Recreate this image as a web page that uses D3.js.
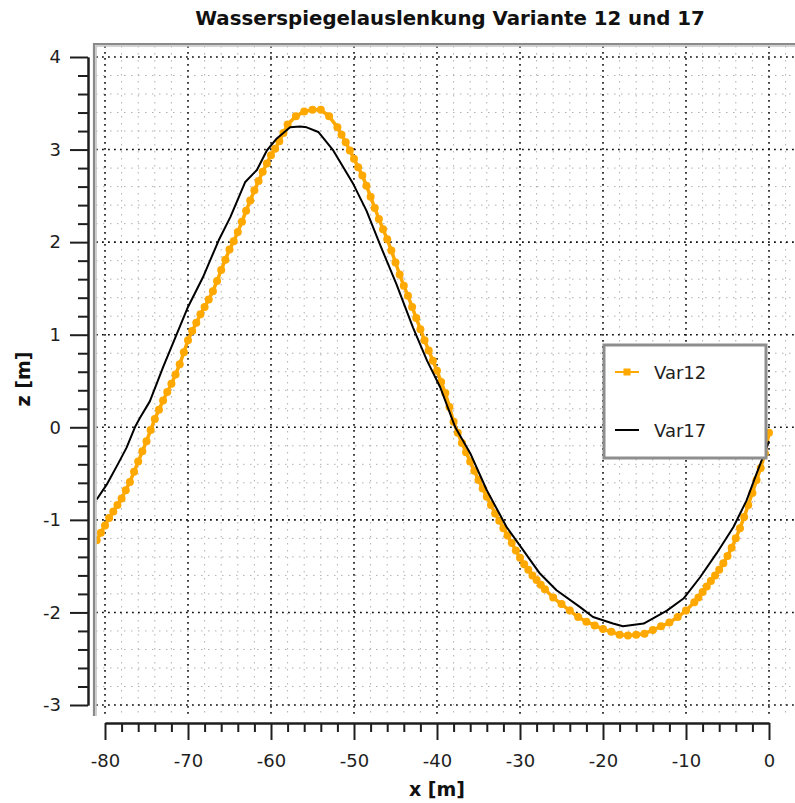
<!DOCTYPE html>
<html>
<head>
<meta charset="utf-8">
<script src="https://cdn.jsdelivr.net/npm/d3@7"></script>
<style>
  html, body { margin: 0; padding: 0; background: #ffffff; }
  svg { display: block; }
</style>
</head>
<body>
<script>
// Water surface deflection along the channel, two variants
const titleText = "Wasserspiegelauslenkung Variante 12 und 17";
const xLabelText = "x [m]";
const yLabelText = "z [m]";
const seriesNames = ["Var12", "Var17"];

const var12X = [-81.0, -80.5, -80.0, -79.5, -79.0, -78.5, -78.0, -77.5, -77.0, -76.5, -76.0, -75.5, -75.0, -74.5, -74.0, -73.5,
                -73.0, -72.5, -72.0, -71.5, -71.0, -70.5, -70.0, -69.5, -69.0, -68.5, -68.0, -67.5, -67.0, -66.5, -66.0, -65.5,
                -65.0, -64.5, -64.0, -63.5, -63.0, -62.5, -62.0, -61.5, -61.0, -60.5, -60.0, -59.5, -59.0, -58.5, -58.0, -57.0,
                -56.0, -55.0, -54.0, -53.0, -52.0, -51.5, -51.0, -50.5, -50.0, -49.5, -49.0, -48.5, -48.0, -47.5, -47.0, -46.5,
                -46.0, -45.5, -45.0, -44.5, -44.0, -43.5, -43.0, -42.5, -42.0, -41.5, -41.0, -40.5, -40.0, -39.5, -39.0, -38.5,
                -38.0, -37.5, -37.0, -36.5, -36.0, -35.5, -35.0, -34.5, -34.0, -33.5, -33.0, -32.5, -32.0, -31.5, -31.0, -30.5,
                -30.0, -29.5, -29.0, -28.5, -28.0, -27.5, -27.0, -26.0, -25.0, -24.0, -23.0, -22.0, -21.0, -20.0, -19.0, -18.0,
                -17.0, -16.0, -15.0, -14.0, -13.0, -12.0, -11.0, -10.0, -9.0, -8.5, -8.0, -7.5, -7.0, -6.5, -6.0, -5.5,
                -5.0, -4.5, -4.0, -3.5, -3.0, -2.5, -2.0, -1.5, -1.0, -0.5, 0.0];
const var12Z = [-1.22, -1.14, -1.06, -0.98, -0.91, -0.84, -0.77, -0.68, -0.59, -0.48, -0.37, -0.26, -0.15, -0.03, 0.09, 0.19,
                0.29, 0.38, 0.47, 0.57, 0.68, 0.81, 0.94, 1.04, 1.13, 1.22, 1.30, 1.38, 1.47, 1.58, 1.70, 1.81,
                1.92, 2.01, 2.11, 2.22, 2.34, 2.45, 2.56, 2.66, 2.76, 2.85, 2.94, 3.01, 3.09, 3.18, 3.27, 3.36,
                3.41, 3.43, 3.43, 3.36, 3.24, 3.16, 3.08, 2.99, 2.90, 2.81, 2.72, 2.61, 2.49, 2.37, 2.25, 2.14,
                2.03, 1.91, 1.78, 1.65, 1.53, 1.42, 1.30, 1.18, 1.06, 0.94, 0.83, 0.72, 0.61, 0.49, 0.37, 0.22,
                0.06, -0.06, -0.17, -0.27, -0.37, -0.47, -0.57, -0.66, -0.75, -0.84, -0.93, -1.01, -1.09, -1.17, -1.25, -1.33,
                -1.41, -1.48, -1.54, -1.60, -1.65, -1.70, -1.75, -1.84, -1.91, -1.98, -2.05, -2.10, -2.14, -2.18, -2.21, -2.24,
                -2.25, -2.24, -2.23, -2.19, -2.15, -2.11, -2.05, -1.98, -1.89, -1.84, -1.78, -1.72, -1.66, -1.60, -1.54, -1.47,
                -1.39, -1.30, -1.20, -1.09, -0.97, -0.84, -0.71, -0.57, -0.44, -0.28, -0.06];

const var17X = [-81.0, -79.8, -78.4, -77.4, -76.4, -75.8, -74.6, -73.0, -70.0, -68.2, -66.3, -64.9, -63.1, -61.7, -60.5, -59.3,
                -57.7, -56.5, -55.7, -54.3, -52.5, -50.1, -48.5, -46.9, -44.9, -42.9, -41.2, -39.6, -37.8, -36.0, -34.0, -31.6,
                -29.6, -27.6, -25.6, -22.8, -21.2, -18.8, -17.6, -15.1, -12.3, -10.3, -8.3, -6.3, -4.3, -2.7, -1.5, 0.0];
const var17Z = [-0.78, -0.62, -0.39, -0.22, 0.00, 0.10, 0.28, 0.65, 1.30, 1.62, 2.02, 2.27, 2.65, 2.78, 2.99, 3.12,
                3.24, 3.25, 3.24, 3.19, 2.99, 2.63, 2.34, 1.98, 1.55, 1.08, 0.72, 0.43, 0.00, -0.28, -0.68, -1.08,
                -1.33, -1.58, -1.76, -1.94, -2.05, -2.12, -2.15, -2.12, -1.98, -1.85, -1.62, -1.36, -1.08, -0.79, -0.50, -0.15];

const xMajorTicks = [-80, -70, -60, -50, -40, -30, -20, -10, 0];
const xTickLabels = ["-80", "-70", "-60", "-50", "-40", "-30", "-20", "-10", "0"];
const yMajorTicks = [-3, -2, -1, 0, 1, 2, 3, 4];
const yTickLabels = ["-3", "-2", "-1", "0", "1", "2", "3", "4"];

const W = 795, H = 803;
const plot = { left: 96, top: 46, right: 800, bottom: 716 };

const x = d3.scaleLinear().domain([-80, 0]).range([105, 769]);
const y = d3.scaleLinear().domain([-3, 4]).range([705, 57]);

const xMinorTicks = d3.range(-80, 0.001, 2).filter(v => !xMajorTicks.includes(v));
const yMinorTicks = d3.range(-3, 4.001, 0.2).map(v => +v.toFixed(1)).filter(v => !yMajorTicks.includes(v));
const xGridMinor = d3.range(-82, 4.001, 2).filter(v => v % 10 !== 0);
const xGridMajor = xMajorTicks;
const yGridMinor = yMinorTicks;

const FONT = "'DejaVu Sans', Verdana, sans-serif";
const INK = "#1e1e1e";
const ORANGE = "#ffa800";

const svg = d3.select("body").append("svg")
  .attr("width", W).attr("height", H)
  .attr("viewBox", `0 0 ${W} ${H}`);

svg.append("defs").append("clipPath").attr("id", "plotClip")
  .append("rect")
  .attr("x", plot.left).attr("y", plot.top)
  .attr("width", plot.right - plot.left).attr("height", plot.bottom - plot.top);

// plot background
svg.append("rect")
  .attr("x", plot.left).attr("y", plot.top)
  .attr("width", plot.right - plot.left).attr("height", plot.bottom - plot.top)
  .attr("fill", "#ffffff");

const grid = svg.append("g").attr("clip-path", "url(#plotClip)");

// minor grid (light grey dotted)
grid.selectAll("line.vminor").data(xGridMinor).join("line")
  .attr("x1", d => x(d)).attr("x2", d => x(d))
  .attr("y1", plot.top).attr("y2", plot.bottom)
  .attr("stroke", "#b0b0b0").attr("stroke-width", 1)
  .attr("stroke-dasharray", "1.5,5.5");
grid.selectAll("line.hminor").data(yGridMinor).join("line")
  .attr("y1", d => y(d)).attr("y2", d => y(d))
  .attr("x1", plot.left).attr("x2", plot.right)
  .attr("stroke", "#b0b0b0").attr("stroke-width", 1)
  .attr("stroke-dasharray", "1.5,5.5");

// major grid (dark dotted)
grid.selectAll("line.vmajor").data(xGridMajor).join("line")
  .attr("x1", d => x(d)).attr("x2", d => x(d))
  .attr("y1", plot.top).attr("y2", plot.bottom)
  .attr("stroke", "#111").attr("stroke-width", 1.6)
  .attr("stroke-dasharray", "1.8,4.2");
grid.selectAll("line.hmajor").data(yMajorTicks).join("line")
  .attr("y1", d => y(d)).attr("y2", d => y(d))
  .attr("x1", plot.left).attr("x2", plot.right)
  .attr("stroke", "#111").attr("stroke-width", 1.6)
  .attr("stroke-dasharray", "1.8,4.2");

// series
const var12 = var12X.map((v, i) => ({ x: v, z: var12Z[i] }));
const var17 = var17X.map((v, i) => ({ x: v, z: var17Z[i] }));
const line = d3.line().x(d => x(d.x)).y(d => y(d.z));

const series = svg.append("g").attr("clip-path", "url(#plotClip)");
series.append("path").datum(var12)
  .attr("d", line).attr("fill", "none")
  .attr("stroke", ORANGE).attr("stroke-width", 3.5)
  .attr("stroke-linejoin", "round");
series.selectAll("circle.m12").data(var12).join("circle")
  .attr("cx", d => x(d.x)).attr("cy", d => y(d.z)).attr("r", 4)
  .attr("fill", ORANGE);
series.append("path").datum(var17)
  .attr("d", line).attr("fill", "none")
  .attr("stroke", "#000").attr("stroke-width", 2)
  .attr("stroke-linejoin", "round");

// sunken frame: grey top and left edges
svg.append("path")
  .attr("d", `M${plot.left - 2},${plot.bottom} V${plot.top - 2} H${W}`)
  .attr("fill", "none").attr("stroke", "#8a8a8a").attr("stroke-width", 2.2);
svg.append("path")
  .attr("d", `M${plot.left},${plot.bottom} V${plot.top} H${W}`)
  .attr("fill", "none").attr("stroke", "#c4c4c4").attr("stroke-width", 1.6);

// axes
function styleAxis(g) {
  g.selectAll("path.domain").attr("stroke", INK).attr("stroke-width", 2);
  g.selectAll(".tick line").attr("stroke", INK).attr("stroke-width", 2);
  g.selectAll(".tick text").attr("fill", INK)
    .attr("font-family", FONT).attr("font-size", 18);
}

const xAxisY = 723;
svg.append("g").attr("transform", `translate(0,${xAxisY})`)
  .call(d3.axisBottom(x).tickValues(xMinorTicks).tickSize(9).tickSizeOuter(0).tickFormat(""))
  .call(styleAxis);
svg.append("g").attr("transform", `translate(0,${xAxisY})`)
  .call(d3.axisBottom(x).tickValues(xMajorTicks).tickSize(17).tickSizeOuter(0).tickPadding(14)
        .tickFormat((d, i) => xTickLabels[i]))
  .call(styleAxis);

const yAxisX = 88;
svg.append("g").attr("transform", `translate(${yAxisX},0)`)
  .call(d3.axisLeft(y).tickValues(yMinorTicks).tickSize(10).tickSizeOuter(0).tickFormat(""))
  .call(styleAxis);
svg.append("g").attr("transform", `translate(${yAxisX},0)`)
  .call(d3.axisLeft(y).tickValues(yMajorTicks).tickSize(18).tickSizeOuter(0).tickPadding(9)
        .tickFormat((d, i) => yTickLabels[i]))
  .call(styleAxis);

// legend
const lg = svg.append("g");
lg.append("rect")
  .attr("x", 604).attr("y", 345).attr("width", 162).attr("height", 113)
  .attr("fill", "#ffffff").attr("stroke", "#8e8e8e").attr("stroke-width", 3);
const legendRows = [
  { name: seriesNames[0], color: ORANGE, marker: true, y: 372 },
  { name: seriesNames[1], color: "#000", marker: false, y: 430 }
];
legendRows.forEach(r => {
  lg.append("line")
    .attr("x1", 615).attr("x2", 639).attr("y1", r.y).attr("y2", r.y)
    .attr("stroke", r.color).attr("stroke-width", 2);
  if (r.marker) {
    lg.append("rect")
      .attr("x", 623.5).attr("y", r.y - 3.5).attr("width", 7).attr("height", 7)
      .attr("fill", r.color);
  }
  lg.append("text")
    .attr("x", 654).attr("y", r.y + 7)
    .attr("font-family", FONT).attr("font-size", 18).attr("fill", INK)
    .text(r.name);
});

// titles
const title = svg.append("text")
  .attr("x", 450).attr("y", 25).attr("text-anchor", "middle")
  .attr("font-family", FONT).attr("font-weight", "bold").attr("font-size", 17)
  .attr("fill", "#111")
  .text(titleText);
const tl = title.node().getComputedTextLength();
if (tl > 0) title.attr("font-size", 17 * 510 / tl);

svg.append("text")
  .attr("x", 437).attr("y", 796).attr("text-anchor", "middle")
  .attr("font-family", FONT).attr("font-weight", "bold").attr("font-size", 19)
  .attr("fill", "#111")
  .text(xLabelText);

svg.append("text")
  .attr("transform", "translate(30,379) rotate(-90)")
  .attr("text-anchor", "middle")
  .attr("font-family", FONT).attr("font-weight", "bold").attr("font-size", 19)
  .attr("fill", "#111")
  .text(yLabelText);
</script>
</body>
</html>
